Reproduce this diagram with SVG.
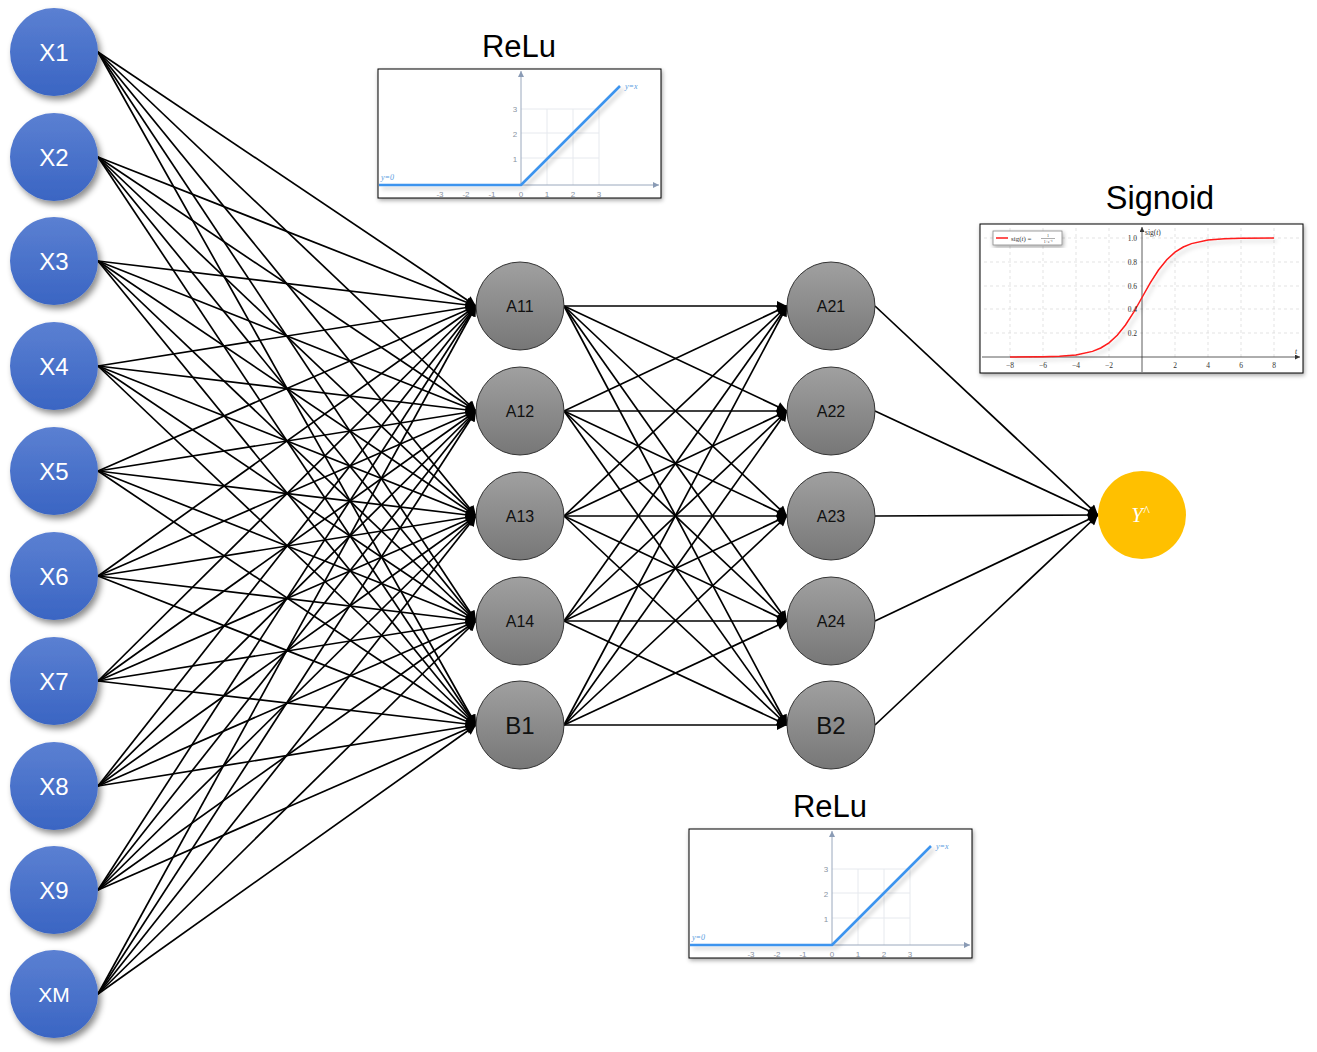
<svg xmlns="http://www.w3.org/2000/svg" width="1317" height="1052" viewBox="0 0 1317 1052">
<defs>
<linearGradient id="gb" x1="0" y1="0" x2="0" y2="1"><stop offset="0" stop-color="#5b80d2"/><stop offset="1" stop-color="#3a65c3"/></linearGradient>
<linearGradient id="gg" x1="0" y1="0" x2="0" y2="1"><stop offset="0" stop-color="#a0a0a0"/><stop offset="1" stop-color="#777"/></linearGradient>
<filter id="sh" x="-30%" y="-30%" width="170%" height="170%"><feDropShadow dx="3" dy="4" stdDeviation="3" flood-color="#000" flood-opacity="0.45"/></filter>
<filter id="fs" x="-10%" y="-10%" width="120%" height="130%"><feDropShadow dx="1" dy="2" stdDeviation="2" flood-color="#000" flood-opacity="0.35"/></filter>
<filter id="ls" x="-10%" y="-10%" width="120%" height="130%"><feDropShadow dx="3" dy="3" stdDeviation="2" flood-color="#000" flood-opacity="0.2"/></filter>
<marker id="ah" viewBox="0 0 10 10" refX="10" refY="5" markerWidth="12" markerHeight="10" markerUnits="userSpaceOnUse" orient="auto"><path d="M0 0L10 5L0 10z" fill="#000"/></marker>
<marker id="ga" viewBox="0 0 10 10" refX="10" refY="5" markerWidth="7" markerHeight="6" markerUnits="userSpaceOnUse" orient="auto"><path d="M0 0L10 5L0 10z" fill="#8a9bb5"/></marker>
<marker id="ka" viewBox="0 0 10 10" refX="10" refY="5" markerWidth="6" markerHeight="5" markerUnits="userSpaceOnUse" orient="auto"><path d="M0 0L10 5L0 10z" fill="#333"/></marker>
<g id="relu">
<rect x="0" y="0" width="283" height="129" fill="#fff" stroke="#000" stroke-width="1" filter="url(#fs)"/>
<g stroke="#e6e9ee" stroke-width="1" fill="none">
<path d="M169 40V116M195 40V116M221 40V116M143 40H221M143 64H221M143 89H221"/>
</g>
<path d="M1 116H281" stroke="#9aa8bd" stroke-width="1" marker-end="url(#ga)"/>
<path d="M143 116V2" stroke="#9aa8bd" stroke-width="1" marker-end="url(#ga)"/>
<g font-family="Liberation Sans, sans-serif" font-size="8" fill="#8a94a3" text-anchor="middle">
<text x="62" y="128">-3</text><text x="88" y="128">-2</text><text x="114" y="128">-1</text><text x="143" y="128">0</text><text x="169" y="128">1</text><text x="195" y="128">2</text><text x="221" y="128">3</text>
<text x="137" y="43">3</text><text x="137" y="68">2</text><text x="137" y="93">1</text>
</g>
<path d="M1 116H143L242 17" stroke="#3d94ee" stroke-width="2.6" fill="none" stroke-linejoin="round" filter="url(#ls)"/>
<g font-family="Liberation Serif, serif" font-style="italic" font-size="8" fill="#5a9be0">
<text x="247" y="20">y=x</text><text x="3" y="111">y=0</text>
</g>
</g>
</defs>
<rect width="1317" height="1052" fill="#fff"/>

<g id="connectors" fill="none" stroke="#000" stroke-width="1.7" marker-end="url(#ah)">
<path d="M98 52L476 306"/><path d="M98 52L476 411"/><path d="M98 52L476 516"/><path d="M98 52L476 621"/><path d="M98 52L476 725"/>
<path d="M98 157L476 306"/><path d="M98 157L476 411"/><path d="M98 157L476 516"/><path d="M98 157L476 621"/><path d="M98 157L476 725"/>
<path d="M98 261L476 306"/><path d="M98 261L476 411"/><path d="M98 261L476 516"/><path d="M98 261L476 621"/><path d="M98 261L476 725"/>
<path d="M98 366L476 306"/><path d="M98 366L476 411"/><path d="M98 366L476 516"/><path d="M98 366L476 621"/><path d="M98 366L476 725"/>
<path d="M98 471L476 306"/><path d="M98 471L476 411"/><path d="M98 471L476 516"/><path d="M98 471L476 621"/><path d="M98 471L476 725"/>
<path d="M98 576L476 306"/><path d="M98 576L476 411"/><path d="M98 576L476 516"/><path d="M98 576L476 621"/><path d="M98 576L476 725"/>
<path d="M98 681L476 306"/><path d="M98 681L476 411"/><path d="M98 681L476 516"/><path d="M98 681L476 621"/><path d="M98 681L476 725"/>
<path d="M98 786L476 306"/><path d="M98 786L476 411"/><path d="M98 786L476 516"/><path d="M98 786L476 621"/><path d="M98 786L476 725"/>
<path d="M98 890L476 306"/><path d="M98 890L476 411"/><path d="M98 890L476 516"/><path d="M98 890L476 621"/><path d="M98 890L476 725"/>
<path d="M98 994L476 306"/><path d="M98 994L476 411"/><path d="M98 994L476 516"/><path d="M98 994L476 621"/><path d="M98 994L476 725"/>
<path d="M564 306L787 306"/><path d="M564 306L787 411"/><path d="M564 306L787 516"/><path d="M564 306L787 621"/><path d="M564 306L787 725"/>
<path d="M564 411L787 306"/><path d="M564 411L787 411"/><path d="M564 411L787 516"/><path d="M564 411L787 621"/><path d="M564 411L787 725"/>
<path d="M564 516L787 306"/><path d="M564 516L787 411"/><path d="M564 516L787 516"/><path d="M564 516L787 621"/><path d="M564 516L787 725"/>
<path d="M564 621L787 306"/><path d="M564 621L787 411"/><path d="M564 621L787 516"/><path d="M564 621L787 621"/><path d="M564 621L787 725"/>
<path d="M564 725L787 306"/><path d="M564 725L787 411"/><path d="M564 725L787 516"/><path d="M564 725L787 621"/><path d="M564 725L787 725"/>
<path d="M875 306L1098 515"/><path d="M875 411L1098 515"/><path d="M875 516L1098 515"/><path d="M875 621L1098 515"/><path d="M875 725L1098 515"/>
</g>

<g font-family="Liberation Sans, Arial, sans-serif" text-anchor="middle">
<g id="X1"><circle cx="54" cy="52" r="44" fill="url(#gb)" filter="url(#sh)"/><text x="54" y="61" font-size="24" fill="#fff">X1</text></g>
<g id="X2"><circle cx="54" cy="157" r="44" fill="url(#gb)" filter="url(#sh)"/><text x="54" y="166" font-size="24" fill="#fff">X2</text></g>
<g id="X3"><circle cx="54" cy="261" r="44" fill="url(#gb)" filter="url(#sh)"/><text x="54" y="270" font-size="24" fill="#fff">X3</text></g>
<g id="X4"><circle cx="54" cy="366" r="44" fill="url(#gb)" filter="url(#sh)"/><text x="54" y="375" font-size="24" fill="#fff">X4</text></g>
<g id="X5"><circle cx="54" cy="471" r="44" fill="url(#gb)" filter="url(#sh)"/><text x="54" y="480" font-size="24" fill="#fff">X5</text></g>
<g id="X6"><circle cx="54" cy="576" r="44" fill="url(#gb)" filter="url(#sh)"/><text x="54" y="585" font-size="24" fill="#fff">X6</text></g>
<g id="X7"><circle cx="54" cy="681" r="44" fill="url(#gb)" filter="url(#sh)"/><text x="54" y="690" font-size="24" fill="#fff">X7</text></g>
<g id="X8"><circle cx="54" cy="786" r="44" fill="url(#gb)" filter="url(#sh)"/><text x="54" y="795" font-size="24" fill="#fff">X8</text></g>
<g id="X9"><circle cx="54" cy="890" r="44" fill="url(#gb)" filter="url(#sh)"/><text x="54" y="899" font-size="24" fill="#fff">X9</text></g>
<g id="XM"><circle cx="54" cy="994" r="44" fill="url(#gb)" filter="url(#sh)"/><text x="54" y="1002" font-size="21" fill="#fff">XM</text></g>

<g id="A11"><circle cx="520" cy="306" r="44" fill="url(#gg)" stroke="#333" stroke-width="1"/><text x="520" y="312" font-size="16" fill="#111">A11</text></g>
<g id="A12"><circle cx="520" cy="411" r="44" fill="url(#gg)" stroke="#333" stroke-width="1"/><text x="520" y="417" font-size="16" fill="#111">A12</text></g>
<g id="A13"><circle cx="520" cy="516" r="44" fill="url(#gg)" stroke="#333" stroke-width="1"/><text x="520" y="522" font-size="16" fill="#111">A13</text></g>
<g id="A14"><circle cx="520" cy="621" r="44" fill="url(#gg)" stroke="#333" stroke-width="1"/><text x="520" y="627" font-size="16" fill="#111">A14</text></g>
<g id="B1"><circle cx="520" cy="725" r="44" fill="url(#gg)" stroke="#333" stroke-width="1"/><text x="520" y="734" font-size="24" fill="#111">B1</text></g>

<g id="A21"><circle cx="831" cy="306" r="44" fill="url(#gg)" stroke="#333" stroke-width="1"/><text x="831" y="312" font-size="16" fill="#111">A21</text></g>
<g id="A22"><circle cx="831" cy="411" r="44" fill="url(#gg)" stroke="#333" stroke-width="1"/><text x="831" y="417" font-size="16" fill="#111">A22</text></g>
<g id="A23"><circle cx="831" cy="516" r="44" fill="url(#gg)" stroke="#333" stroke-width="1"/><text x="831" y="522" font-size="16" fill="#111">A23</text></g>
<g id="A24"><circle cx="831" cy="621" r="44" fill="url(#gg)" stroke="#333" stroke-width="1"/><text x="831" y="627" font-size="16" fill="#111">A24</text></g>
<g id="B2"><circle cx="831" cy="725" r="44" fill="url(#gg)" stroke="#333" stroke-width="1"/><text x="831" y="734" font-size="24" fill="#111">B2</text></g>

<g id="Y"><circle cx="1142" cy="515" r="44" fill="#ffc000"/><text x="1140" y="522" font-size="21" font-family="Liberation Serif, serif" font-style="italic" fill="#fff">Y<tspan font-size="14" dy="-6">^</tspan></text></g>

<g id="titles" fill="#000">
<text x="519" y="57" font-size="31">ReLu</text>
<text x="1160" y="209" font-size="32.5">Signoid</text>
<text x="830" y="817" font-size="31">ReLu</text>
</g>
</g>

<g id="relu-top"><use href="#relu" x="378" y="69"/></g>
<g id="relu-bottom"><use href="#relu" x="689" y="829"/></g>

<g id="sigmoid">
<rect x="980" y="224" width="323" height="149" fill="#fff" stroke="#000" stroke-width="1" filter="url(#fs)"/>
<g stroke="#dcdcdc" stroke-width="0.8" stroke-dasharray="3 3" fill="none">
<path d="M1010 228V357M1043 228V357M1076 228V357M1109 228V357M1175 228V357M1208 228V357M1241 228V357M1274 228V357"/>
<path d="M984 333H1300M984 309H1300M984 286H1300M984 262H1300M984 238H1300"/>
</g>
<path d="M982 357H1300" stroke="#333" stroke-width="0.8" marker-end="url(#ka)"/>
<path d="M1142 372V227" stroke="#333" stroke-width="0.8" marker-end="url(#ka)"/>
<polyline points="1010,357 1043,356.7 1059.5,356.2 1076,354.9 1092.5,351.4 1100.75,348 1109,342.8 1117.25,335.3 1125.5,325 1133.75,312.1 1142,297.5 1150.25,282.9 1158.5,270 1166.75,259.7 1175,252.2 1183.25,247 1191.5,243.6 1208,240.1 1224.5,238.8 1241,238.3 1274,238" fill="none" stroke="#ff1a1a" stroke-width="1.5" filter="url(#ls)"/>
<g font-family="Liberation Serif, serif" font-size="7.5" fill="#333">
<g text-anchor="middle">
<text x="1010" y="368">−8</text><text x="1043" y="368">−6</text><text x="1076" y="368">−4</text><text x="1109" y="368">−2</text><text x="1175" y="368">2</text><text x="1208" y="368">4</text><text x="1241" y="368">6</text><text x="1274" y="368">8</text>
</g>
<g text-anchor="end">
<text x="1137" y="241">1.0</text><text x="1137" y="265">0.8</text><text x="1137" y="289">0.6</text><text x="1137" y="312">0.4</text><text x="1137" y="336">0.2</text>
</g>
<text x="1145" y="235">sig(<tspan font-style="italic">t</tspan>)</text>
<text x="1295" y="354" font-style="italic">t</text>
</g>
<rect x="993" y="231" width="69" height="14" fill="#fff" stroke="#888" stroke-width="0.8" filter="url(#fs)"/>
<path d="M996 238H1008" stroke="#ff1a1a" stroke-width="1.5"/>
<g font-family="Liberation Serif, serif" fill="#333">
<text x="1011" y="241" font-size="7">sig(<tspan font-style="italic">t</tspan>) =</text>
<text x="1048" y="237" font-size="4" text-anchor="middle">1</text>
<path d="M1041 238.5H1055" stroke="#333" stroke-width="0.4"/>
<text x="1048" y="243" font-size="4" text-anchor="middle">1+e<tspan dy="-1.5" font-size="3">−t</tspan></text>
</g>
</g>
</svg>
